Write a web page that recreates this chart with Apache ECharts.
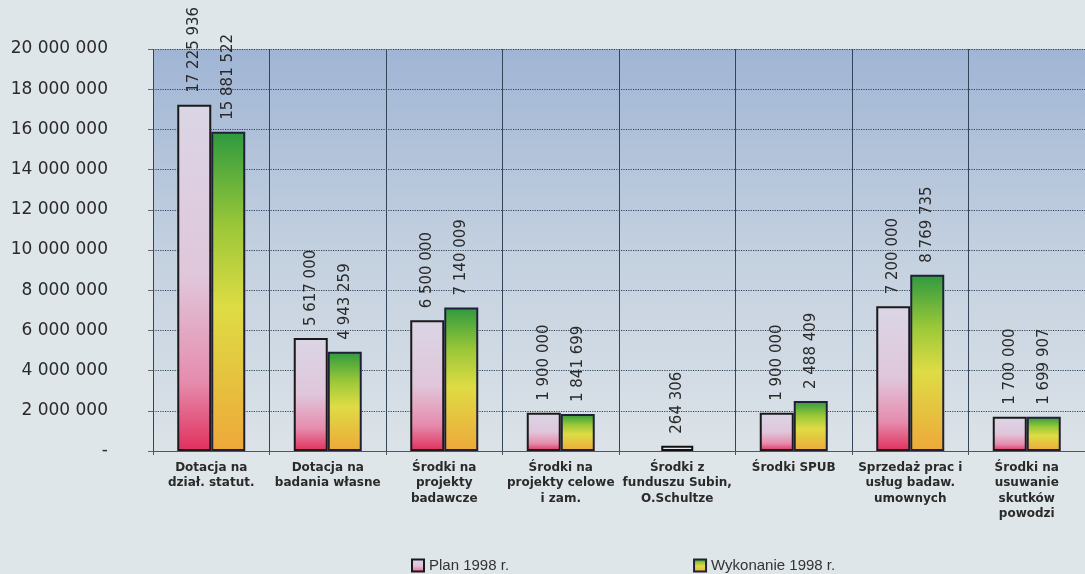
<!DOCTYPE html>
<html>
<head>
<meta charset="utf-8">
<script src="https://cdn.jsdelivr.net/npm/echarts@6/dist/echarts.min.js"></script>
<style>
html,body{margin:0;padding:0;background:#dfe6e9;}
#c{width:1085px;height:574px;}
</style>
</head>
<body>
<div id="c"></div>
<script>
var categories = [
  "Dotacja na\ndział. statut.",
  "Dotacja na\nbadania własne",
  "Środki na\nprojekty\nbadawcze",
  "Środki na\nprojekty celowe\ni zam.",
  "Środki z\nfunduszu Subin,\nO.Schultze",
  "Środki SPUB",
  "Sprzedaż prac i\nusług badaw.\numownych",
  "Środki na\nusuwanie\nskutków\npowodzi"
];
var planValues = [17225936, 5617000, 6500000, 1900000, null, 1900000, 7200000, 1700000];
var wykonanieValues = [15881522, 4943259, 7140009, 1841699, 264306, 2488409, 8769735, 1699907];
var seriesNames = ["Plan 1998 r.", "Wykonanie 1998 r."];
var yTicks = {min: 0, max: 20000000, interval: 2000000};

// a category where only one value exists is drawn centred
var singleIdx = planValues.map(function(v, i){ return v == null ? i : -1; }).filter(function(i){ return i >= 0; });
var wykMain = wykonanieValues.map(function(v, i){ return singleIdx.indexOf(i) >= 0 ? null : v; });
var wykSingle = wykonanieValues.map(function(v, i){ return singleIdx.indexOf(i) >= 0 ? v : null; });

function fmt(v){ return String(v).replace(/\B(?=(\d{3})+(?!\d))/g, ' '); }

var labelCfg = {
  show: true, position: 'top', rotate: 90, align: 'left', verticalAlign: 'middle',
  distance: 12, fontFamily: 'DejaVu Sans', fontSize: 15, color: '#2a2a2a',
  formatter: function(p){ return fmt(p.value); }
};

var planGrad = new echarts.graphic.LinearGradient(0,0,0,1,[
  {offset:0, color:'#dad6e6'},{offset:0.5, color:'#e0c6da'},{offset:0.8, color:'#e68cae'},{offset:1, color:'#e0305c'}
]);
var wykGrad = new echarts.graphic.LinearGradient(0,0,0,1,[
  {offset:0, color:'#2e9a3e'},{offset:0.3, color:'#9cc838'},{offset:0.55, color:'#dedc44'},{offset:1, color:'#eea83a'}
]);

var chart = echarts.init(document.getElementById('c'));
chart.setOption({
  backgroundColor: '#dfe6e9',
  animation: false,
  grid: {
    left: 153, top: 49, width: 940, height: 402, show: true, borderWidth: 0,
    backgroundColor: new echarts.graphic.LinearGradient(0,0,0,1,[
      {offset:0, color:'#a0b5d5'},{offset:0.5, color:'#c3d0df'},{offset:1, color:'#dce3e8'}
    ])
  },
  legend: {
    data: seriesNames, left: 406, top: 553, itemWidth: 12, itemHeight: 12, itemGap: 184,
    textStyle: {fontFamily: 'Liberation Sans', fontSize: 15, color: '#333'},
    icon: 'rect'
  },
  xAxis: [{
    type: 'category', data: categories,
    axisLine: {lineStyle: {color: '#555', width: 1}},
    axisTick: {show: true, length: 4, lineStyle: {color: '#555'}},
    splitLine: {show: true, lineStyle: {color: '#34455a', width: 1}},
    axisLabel: {interval: 0, margin: 9, fontFamily: 'DejaVu Sans', fontWeight: 'bold', fontSize: 12, lineHeight: 15.5, color: '#2a2a2a'}
  },{
    type: 'category', data: categories, show: false
  }],
  yAxis: {
    type: 'value', min: yTicks.min, max: yTicks.max, interval: yTicks.interval,
    axisLine: {show: false},
    axisTick: {show: true, length: 5, lineStyle: {color: '#666'}},
    splitLine: {show: true, lineStyle: {color: '#34455a', type: 'dotted', width: 1.2}},
    axisLabel: {margin: 45, fontFamily: 'DejaVu Sans', fontSize: 17, color: '#2a2a2a',
      formatter: function(v){ return v === 0 ? '-' : fmt(v); }}
  },
  series: [{
    name: seriesNames[0], type: 'bar', data: planValues, barWidth: 34, barGap: '0%',
    itemStyle: {color: planGrad, borderColor: '#1a1a1a', borderWidth: 2},
    label: labelCfg
  },{
    name: seriesNames[1], type: 'bar', data: wykMain, barWidth: 34,
    itemStyle: {color: wykGrad, borderColor: '#20203a', borderWidth: 2},
    label: labelCfg
  },{
    name: seriesNames[1] + ' ', type: 'bar', xAxisIndex: 1, data: wykSingle, barWidth: 32,
    itemStyle: {color: '#e8eaee', borderColor: '#111', borderWidth: 2},
    label: labelCfg
  }]
});
</script>
</body>
</html>
